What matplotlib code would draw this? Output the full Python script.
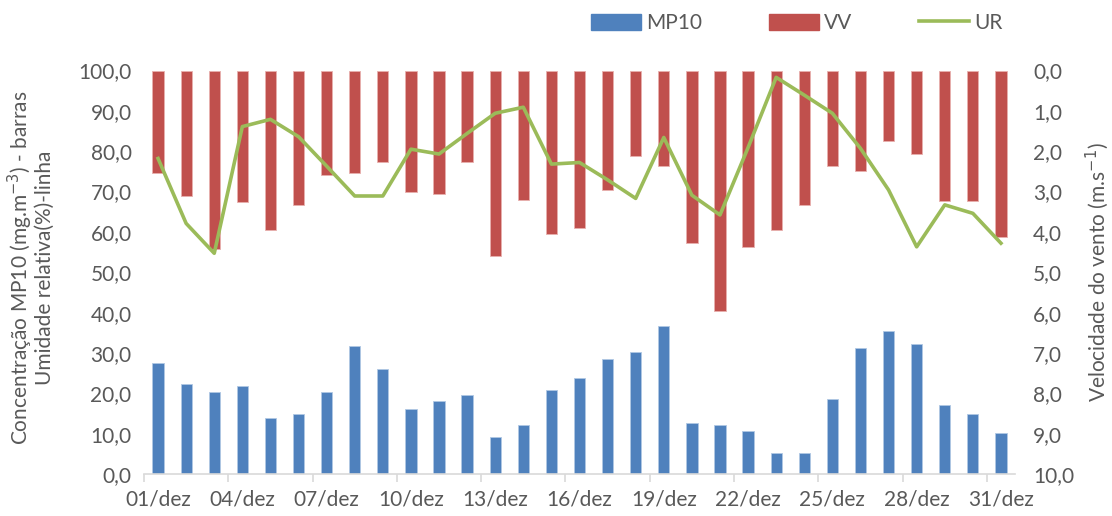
import numpy as np
import matplotlib
matplotlib.use('Agg')
import matplotlib.pyplot as plt
from matplotlib.ticker import FixedLocator, FuncFormatter
from matplotlib.lines import Line2D
from matplotlib.patches import Patch

plt.rcParams['font.family'] = ['Lato', 'DejaVu Sans']

days = ['%02d/dez' % d for d in range(1, 32)]

# MP10 concentration (left axis)
mp10 = [27.6, 22.2, 20.2, 21.7, 13.8, 14.8, 20.2, 31.8, 26.0, 16.0,
        18.1, 19.6, 9.1, 12.2, 20.7, 23.9, 28.6, 30.2, 36.6, 12.7,
        12.2, 10.6, 5.3, 5.3, 18.5, 31.3, 35.5, 32.3, 17.0, 14.8, 10.1]

# wind speed (right axis, inverted)
vv = [2.53, 3.11, 4.43, 3.27, 3.95, 3.33, 2.59, 2.53, 2.27, 3.01,
      3.06, 2.27, 4.60, 3.22, 4.06, 3.91, 2.95, 2.11, 2.37, 4.28,
      5.97, 4.38, 3.96, 3.33, 2.37, 2.48, 1.74, 2.06, 3.23, 3.23, 4.12]

# relative humidity (left axis, line)
ur = [78.2, 62.1, 54.7, 86.1, 87.9, 83.6, 76.3, 68.9, 68.9, 80.5,
      79.3, 84.4, 89.4, 90.9, 76.8, 77.2, 72.9, 68.3, 83.4, 69.1,
      64.2, 80.9, 98.3, 93.9, 89.4, 80.7, 70.4, 56.3, 66.7, 64.6, 57.2]

blue = '#4F81BD'
red = '#C0504D'
green = '#9BBB59'
txt = '#595959'
fs = 15

def virg(v, pos):
    return ('%.1f' % v).replace('.', ',')

x = np.arange(len(days))

fig = plt.figure(figsize=(11.12, 5.16), dpi=100)
ax = fig.add_axes([144/1112, 1-474/516, (1015-144)/1112, (474-70.5)/516])
ax2 = ax.twinx()

ax2.bar(x, vv, width=0.4, color=red, edgecolor='#E8B0AE', linewidth=0.6)
ax2.set_ylim(10, 0)

ax.bar(x, mp10, width=0.4, color=blue, edgecolor='#B0C8E4', linewidth=0.6)
ax.plot(x, ur, color=green, linewidth=2.6, solid_joinstyle='round')
ax.set_ylim(0, 100)
ax.set_xlim(-0.5, len(days) - 0.5)

# put primary axis (blue bars + line) above the red bars
ax.set_zorder(ax2.get_zorder() + 1)
ax.patch.set_visible(False)

for a in (ax, ax2):
    for s in a.spines.values():
        s.set_visible(False)
ax.spines['bottom'].set_visible(True)
ax.spines['bottom'].set_color('#D9D9D9')
ax.spines['bottom'].set_linewidth(1.2)

ax.set_yticks(np.arange(0, 101, 10))
ax.yaxis.set_major_formatter(FuncFormatter(virg))
ax2.set_yticks(np.arange(0, 11, 1))
ax2.yaxis.set_major_formatter(FuncFormatter(virg))
ax.tick_params(axis='y', length=0, pad=9, labelsize=fs, labelcolor=txt)
ax2.tick_params(axis='y', length=0, pad=13, labelsize=fs, labelcolor=txt)

# date labels on every 3rd day, tick marks on the category boundaries
ax.set_xticks(x[::3])
ax.set_xticklabels(days[::3])
ax.xaxis.set_minor_locator(FixedLocator(np.arange(-0.5, len(days) - 1, 3)))
ax.tick_params(axis='x', which='major', length=0, pad=11, labelsize=fs, labelcolor=txt)
ax.tick_params(axis='x', which='minor', length=6, color='#D9D9D9', width=1.2)

fig.text(20/1112, 1-268/516, 'Concentração MP10 (mg.m$^{-3}$) - barras',
         rotation=90, ha='center', va='center', fontsize=fs, color=txt)
fig.text(45/1112, 1-268/516, 'Umidade relativa(%)-linha',
         rotation=90, ha='center', va='center', fontsize=fs, color=txt)
fig.text(1097/1112, 1-272/516, 'Velocidade do vento (m.s$^{-1}$)',
         rotation=90, ha='center', va='center', fontsize=fs, color=txt)

handles = [Patch(color=blue), Patch(color=red), Line2D([], [], color=green, linewidth=2.6)]
leg = fig.legend(handles, ['MP10', 'VV', 'UR'], loc='center', ncol=3,
                 bbox_to_anchor=(797/1112, 1-23/516), frameon=False,
                 fontsize=fs, handlelength=2.4, handleheight=0.8,
                 handletextpad=0.25, columnspacing=3.2)
for t in leg.get_texts():
    t.set_color(txt)

fig.savefig('out.png', dpi=100)
